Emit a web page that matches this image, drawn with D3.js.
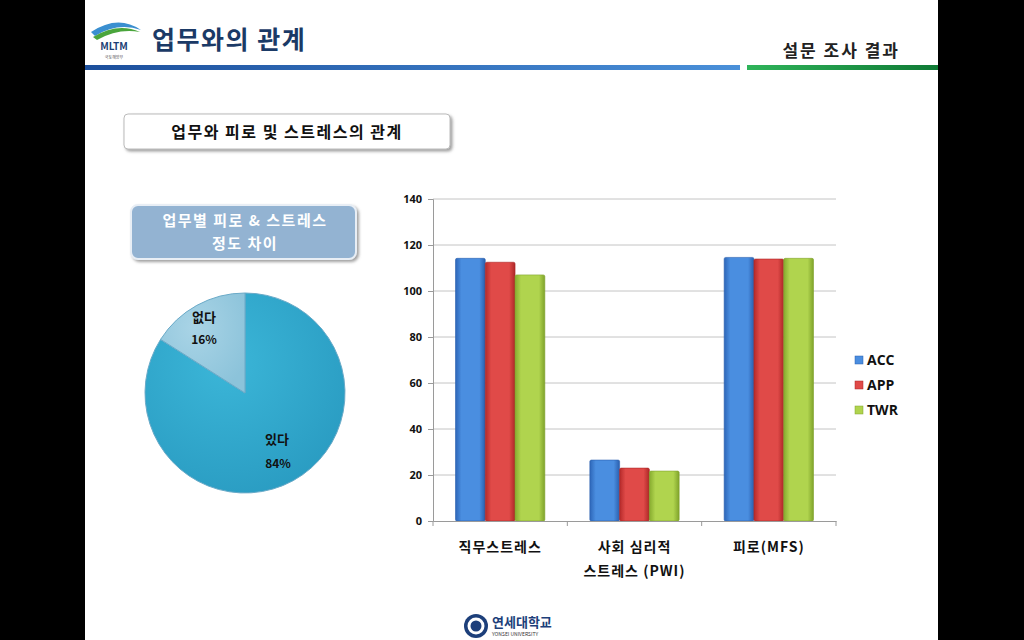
<!DOCTYPE html>
<html>
<head>
<meta charset="utf-8">
<script src="https://cdn.jsdelivr.net/npm/d3@7"></script>
<style>
  body { margin: 0; background: #000; }
  svg { display: block; font-family: "Noto Sans CJK KR", "Noto Sans", sans-serif; }
</style>
</head>
<body>
<div id="chart"></div>
<script>
// data
var categories = ["직무스트레스", "사회 심리적|스트레스 (PWI)", "피로(MFS)"];
var seriesNames = ["ACC", "APP", "TWR"];
var accValues = [114.2, 26.5, 114.6];
var appValues = [112.5, 23, 113.9];
var twrValues = [107, 21.7, 114.2];
var yTicks = [0, 20, 40, 60, 80, 100, 120, 140];
var pieLabels = ["있다", "없다"];
var pieValues = [84, 16];

var colors = { ACC: ["#2d66b8", "#4a8ee0", "#2a5fae"], APP: ["#b52a2a", "#e04a48", "#ad2727"], TWR: ["#86ab2f", "#b0d44e", "#7fa32b"] };

var svg = d3.select("#chart").append("svg")
  .attr("width", 1024).attr("height", 640);

var defs = svg.append("defs");

// slide background
svg.append("rect").attr("x", 85).attr("y", 0).attr("width", 853).attr("height", 640).attr("fill", "#fff");

// header
var blueGrad = defs.append("linearGradient").attr("id", "blueLine");
blueGrad.append("stop").attr("offset", "0%").attr("stop-color", "#1c4f9c");
blueGrad.append("stop").attr("offset", "100%").attr("stop-color", "#4a90d9");
var greenGrad = defs.append("linearGradient").attr("id", "greenLine");
greenGrad.append("stop").attr("offset", "0%").attr("stop-color", "#2fb45a");
greenGrad.append("stop").attr("offset", "100%").attr("stop-color", "#0f7a35");

svg.append("rect").attr("x", 85).attr("y", 65).attr("width", 655).attr("height", 5).attr("fill", "url(#blueLine)");
svg.append("rect").attr("x", 747).attr("y", 65).attr("width", 191).attr("height", 5).attr("fill", "url(#greenLine)");

// MLTM logo
svg.append("path").attr("d", "M91,32 Q118,14 141,30 Q118,22 95,36 Z").attr("fill", "#3a8fd0");
svg.append("path").attr("d", "M93,37 Q118,22 140,32 Q118,28 97,40 Z").attr("fill", "#4aa53c");
svg.append("text").attr("x", 114).attr("y", 50).attr("text-anchor", "middle")
  .attr("font-size", 10).attr("font-weight", "bold").attr("fill", "#1c3f75").text("MLTM");
svg.append("text").attr("x", 114).attr("y", 59).attr("text-anchor", "middle")
  .attr("font-size", 4).attr("fill", "#555").text("국토해양부");

svg.append("text").attr("x", 152).attr("y", 49).attr("letter-spacing", 1.5)
  .attr("font-size", 25).attr("font-weight", "bold").attr("fill", "#1b3a66").text("업무와의 관계");
svg.append("text").attr("x", 900).attr("y", 57).attr("text-anchor", "end").attr("letter-spacing", 2)
  .attr("font-size", 17).attr("font-weight", "bold").attr("fill", "#222").text("설문 조사 결과");

// subtitle box
var shadow = defs.append("filter").attr("id", "shadow").attr("x", "-10%").attr("y", "-20%").attr("width", "130%").attr("height", "160%");
shadow.append("feDropShadow").attr("dx", 2).attr("dy", 2).attr("stdDeviation", 1.5).attr("flood-color", "#777").attr("flood-opacity", 0.7);

svg.append("rect").attr("x", 124).attr("y", 114).attr("width", 326).attr("height", 35).attr("rx", 4)
  .attr("fill", "#fff").attr("stroke", "#bbb").attr("filter", "url(#shadow)");
svg.append("text").attr("x", 287).attr("y", 138).attr("text-anchor", "middle").attr("letter-spacing", 1.5)
  .attr("font-size", 16).attr("font-weight", "bold").attr("fill", "#111").text("업무와 피로 및 스트레스의 관계");

// pie title box
svg.append("rect").attr("x", 131).attr("y", 205).attr("width", 225).attr("height", 54).attr("rx", 7)
  .attr("fill", "#93b3d2").attr("stroke", "#e8eef5").attr("stroke-width", 2).attr("filter", "url(#shadow)");
svg.append("text").attr("x", 245).attr("y", 226).attr("text-anchor", "middle").attr("letter-spacing", 1.5)
  .attr("font-size", 15).attr("font-weight", "bold").attr("fill", "#fff").text("업무별 피로 & 스트레스");
svg.append("text").attr("x", 245).attr("y", 249).attr("text-anchor", "middle").attr("letter-spacing", 1.5)
  .attr("font-size", 15).attr("font-weight", "bold").attr("fill", "#fff").text("정도 차이");

// pie
var pieGradA = defs.append("radialGradient").attr("id", "pieA").attr("cx", "40%").attr("cy", "35%").attr("r", "70%");
pieGradA.append("stop").attr("offset", "0%").attr("stop-color", "#3bb6d8");
pieGradA.append("stop").attr("offset", "100%").attr("stop-color", "#2a9cc2");
var pieGradB = defs.append("radialGradient").attr("id", "pieB").attr("cx", "40%").attr("cy", "35%").attr("r", "70%");
pieGradB.append("stop").attr("offset", "0%").attr("stop-color", "#a9d4e6");
pieGradB.append("stop").attr("offset", "100%").attr("stop-color", "#8cc3da");

var pie = d3.pie().sort(null).value(function(d) { return d; });
var arc = d3.arc().innerRadius(0).outerRadius(100);
var pieG = svg.append("g").attr("transform", "translate(245,393)");
pieG.selectAll("path").data(pie(pieValues)).enter().append("path")
  .attr("d", arc)
  .attr("fill", function(d, i) { return i === 0 ? "url(#pieA)" : "url(#pieB)"; })
  .attr("stroke", "#6aaac8").attr("stroke-width", 1);

var pieLabelPos = [[277, 444, 278, 468], [204, 322, 204, 344]];
pieLabels.forEach(function(lab, i) {
  var p = pieLabelPos[i];
  svg.append("text").attr("x", p[0]).attr("y", p[1]).attr("text-anchor", "middle")
    .attr("font-size", 13).attr("font-weight", "bold").attr("fill", "#111").text(lab);
  svg.append("text").attr("x", p[2]).attr("y", p[3]).attr("text-anchor", "middle")
    .attr("font-size", 12).attr("font-weight", "bold").attr("fill", "#111").text(pieValues[i] + "%");
});

// bar chart
var margin = { left: 433, top: 199 },
  width = 403, height = 322;

var g = svg.append("g").attr("transform", "translate(" + margin.left + "," + margin.top + ")");

var xScale = d3.scaleBand().domain(categories).range([0, width]).padding(0);
var xInner = d3.scaleBand().domain(seriesNames).range([22.5, xScale.bandwidth() - 22.5]).padding(0);
var yScale = d3.scaleLinear().domain([0, 140]).range([height, 0]);

seriesNames.forEach(function(s) {
  var gr = defs.append("linearGradient").attr("id", "bar" + s);
  gr.append("stop").attr("offset", "0%").attr("stop-color", colors[s][0]);
  gr.append("stop").attr("offset", "20%").attr("stop-color", colors[s][1]);
  gr.append("stop").attr("offset", "80%").attr("stop-color", colors[s][1]);
  gr.append("stop").attr("offset", "100%").attr("stop-color", colors[s][2]);
});

g.selectAll(".grid").data(yTicks.slice(1)).enter().append("line")
  .attr("class", "grid")
  .attr("x1", 0).attr("x2", width)
  .attr("y1", function(d) { return yScale(d); }).attr("y2", function(d) { return yScale(d); })
  .attr("stroke", "#c4c4c4").attr("stroke-width", 1);

var rows = [];
categories.forEach(function(c, i) {
  rows.push({ cat: c, s: "ACC", v: accValues[i] });
  rows.push({ cat: c, s: "APP", v: appValues[i] });
  rows.push({ cat: c, s: "TWR", v: twrValues[i] });
});

g.selectAll(".bar").data(rows).enter().append("rect")
  .attr("class", "bar")
  .attr("x", function(d) { return xScale(d.cat) + xInner(d.s); })
  .attr("y", function(d) { return yScale(d.v); })
  .attr("width", xInner.bandwidth())
  .attr("height", function(d) { return height - yScale(d.v); })
  .attr("rx", 1.5)
  .attr("fill", function(d) { return "url(#bar" + d.s + ")"; })
  .attr("stroke", function(d) { return colors[d.s][2]; }).attr("stroke-width", 0.6);

var yAxis = d3.axisLeft(yScale).tickValues(yTicks).tickSize(5).tickPadding(6);
g.append("g").attr("class", "axis y-axis").call(yAxis)
  .call(function(a) {
    a.select(".domain").attr("stroke", "#9a9a9a");
    a.selectAll(".tick line").attr("stroke", "#9a9a9a");
    a.selectAll("text").attr("font-size", 11).attr("font-weight", "bold").attr("fill", "#111")
      .attr("font-family", "'Open Sans', 'Noto Sans', sans-serif");
  });

var xAxis = d3.axisBottom(xScale).tickSize(0).tickFormat("");
var xa = g.append("g").attr("class", "axis x-axis").attr("transform", "translate(0," + height + ")").call(xAxis);
xa.select(".domain").attr("stroke", "#9a9a9a");
xa.selectAll(".sep").data(d3.range(categories.length + 1)).enter().append("line")
  .attr("class", "sep")
  .attr("x1", function(i) { return i * xScale.bandwidth(); })
  .attr("x2", function(i) { return i * xScale.bandwidth(); })
  .attr("y1", 0).attr("y2", 5).attr("stroke", "#9a9a9a");

categories.forEach(function(c) {
  var lines = c.split("|");
  lines.forEach(function(line, j) {
    g.append("text")
      .attr("x", xScale(c) + xScale.bandwidth() / 2)
      .attr("y", height + 31 + j * 24)
      .attr("text-anchor", "middle").attr("letter-spacing", 1)
      .attr("font-size", 14).attr("font-weight", "bold").attr("fill", "#111")
      .text(line);
  });
});

// legend
var legend = svg.append("g").attr("transform", "translate(855,361)");
seriesNames.forEach(function(s, i) {
  legend.append("rect").attr("x", 0).attr("y", i * 25 - 5).attr("width", 8).attr("height", 8)
    .attr("fill", colors[s][1]).attr("stroke", colors[s][2]).attr("stroke-width", 0.5);
  legend.append("text").attr("x", 12).attr("y", i * 25 + 4)
    .attr("font-size", 14).attr("font-weight", "bold").attr("fill", "#111")
    .attr("font-family", "'Open Sans', 'Noto Sans', sans-serif").text(s);
});

// footer
var foot = svg.append("g").attr("transform", "translate(476,626)");
foot.append("circle").attr("r", 12).attr("fill", "#1d3f7a");
foot.append("circle").attr("r", 8.5).attr("fill", "#fff");
foot.append("circle").attr("r", 5.5).attr("fill", "#1d3f7a");
svg.append("text").attr("x", 492).attr("y", 627).attr("font-size", 13).attr("font-weight", "bold").attr("fill", "#1d3f7a").text("연세대학교");
svg.append("text").attr("x", 492).attr("y", 636).attr("font-size", 5).attr("fill", "#333").text("YONSEI UNIVERSITY");
</script>
</body>
</html>
